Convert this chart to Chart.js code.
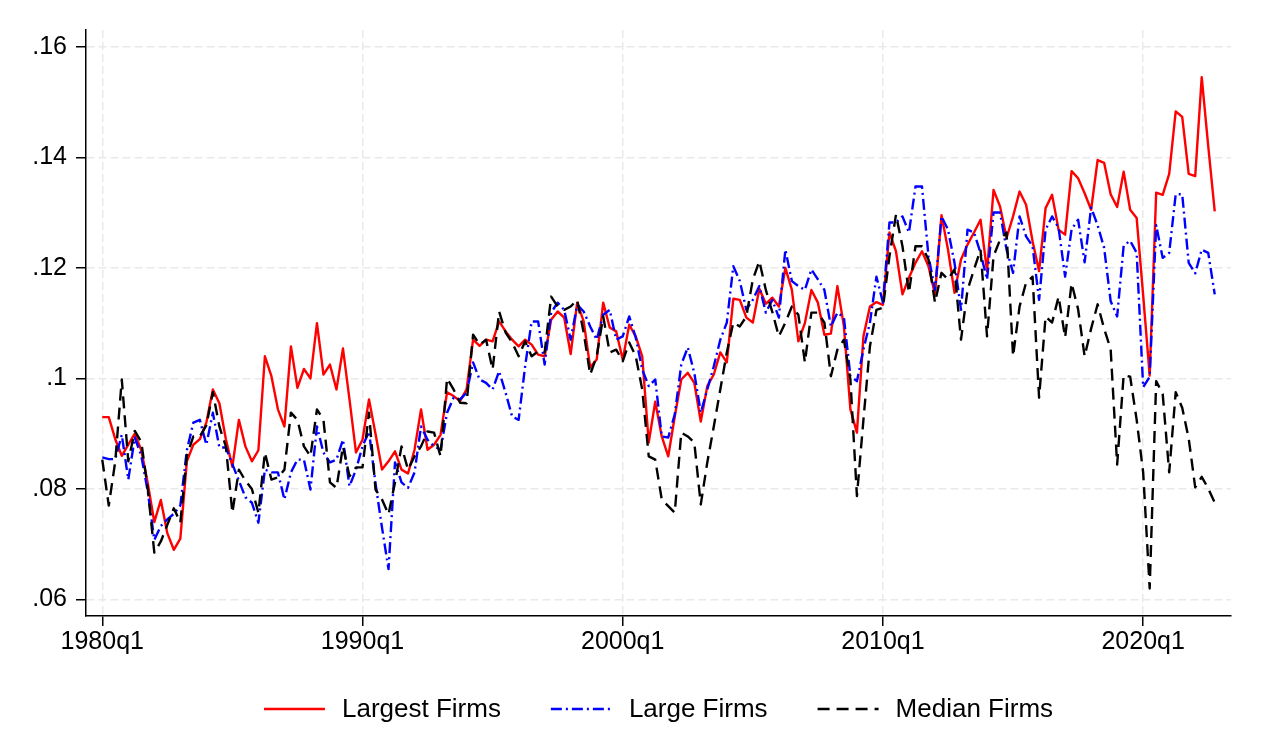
<!DOCTYPE html>
<html>
<head>
<meta charset="utf-8">
<script src="https://cdn.jsdelivr.net/npm/chart.js@4.4.1/dist/chart.umd.min.js"></script>
<style>
  html, body { margin: 0; padding: 0; background: #fff; }
  canvas { display: block; }
</style>
</head>
<body>
<canvas id="mycanvas" width="1279" height="741"></canvas>
<script>
// quarters 1980q1 .. 2022q4
var quarters = [];
for (var yr = 1980; yr <= 2022; yr++) {
  for (var q = 1; q <= 4; q++) quarters.push(yr + 'q' + q);
}

var seriesNames = ['Largest Firms', 'Large Firms', 'Median Firms'];

var largest = [
  .093, .093, .089, .086, .088, .090, .087, .081, .074, .078,
  .072, .069, .071, .085, .088, .089, .092, .098, .0955, .089,
  .084, .0925, .0877, .085, .087, .104, .1004, .0944, .0913, .1058,
  .0983, .1017, .100, .110, .1007, .1025, .098, .1054, .0962, .0866,
  .0889, .0962, .090, .0835, .085, .0868, .0835, .0828, .0871, .0944,
  .0871, .088, .0898, .0975, .0968, .0959, .098, .107, .1059, .107,
  .1067, .1103, .1085, .107, .1058, .107, .1061, .1043, .104, .1106,
  .1121, .111, .1044, .1137, .1103, .102, .1034, .1137, .1092, .1085,
  .1034, .1097, .1076, .104, .0884, .0958, .0895, .0859, .0931, .0998,
  .101, .0992, .0922, .0986, .1007, .1047, .1029, .1144, .1142, .111,
  .1101, .1162, .1135, .1146, .113, .120, .116, .1067, .110, .116,
  .1137, .1079, .1081, .1167, .1094, .0944, .0902, .1076, .113, .1138,
  .1133, .1264, .123, .1152, .1182, .1209, .123, .1203, .1152, .1295,
  .1233, .1155, .1215, .1242, .1264, .1287, .1194, .1341, .1311, .1254,
  .1293, .1338, .1314, .1248, .1194, .1308, .1332, .1269, .126, .1375,
  .1362, .1335, .1305, .1395, .139, .1333, .131, .1374, .1305, .129,
  .115, .1005, .1336, .1332, .137, .1483, .1473, .137, .1366, .1545,
  .142, .1302
];

var large = [
  .0857, .0854, .0854, .0898, .0817, .0893, .086, .0795, .0708, .0733,
  .0745, .0755, .077, .087, .092, .0925, .088, .0938, .0875, .0875,
  .0845, .0815, .0785, .0775, .0739, .0835, .083, .083, .0781, .083,
  .0853, .0853, .0799, .0913, .0866, .0848, .0853, .0889, .0805, .0835,
  .0877, .0904, .081, .073, .0655, .0848, .0812, .0802, .083, .0913,
  .0889, .0877, .0871, .0938, .0965, .0962, .0974, .1029, .0998, .0992,
  .098, .1013, .0974, .0931, .0925, .1022, .1103, .1103, .1025, .1119,
  .1137, .1124, .107, .1133, .1121, .1094, .107, .1115, .1124, .107,
  .1076, .1112, .1074, .1016, .0986, .0998, .0895, .0893, .0935, .1025,
  .1056, .101, .0938, .098, .1022, .107, .1101, .1203, .1176, .1124,
  .1142, .1167, .1119, .1142, .111, .1233, .1176, .1167, .116, .1197,
  .1179, .116, .1094, .1119, .111, .1004, .0995, .1052, .1101, .1184,
  .1137, .1282, .1282, .1293, .1264, .1347, .1347, .1221, .116, .1293,
  .1269, .1209, .1124, .1269, .1264, .1227, .1179, .13, .13, .1233,
  .1191, .1293, .1257, .1239, .1142, .1269, .1293, .1272, .1184, .127,
  .1287, .121, .1309, .1277, .1236, .114, .1112, .124, .1249, .1227,
  .0984, .1003, .1277, .1218, .1227, .1333, .1333, .1209, .119, .1233,
  .1227, .1152
];

var median = [
  .0853, .077, .085, .0998, .085, .0905, .0885, .080, .0685, .0705,
  .0735, .0765, .0739, .086, .0895, .0895, .0915, .0975, .0913, .0877,
  .0757, .0835, .0815, .080, .0757, .0866, .0817, .0821, .0835, .0938,
  .0925, .0877, .0859, .0944, .0925, .0812, .0802, .0877, .0823, .0839,
  .0839, .0938, .0799, .0781, .0754, .0812, .0877, .0835, .0859, .0877,
  .0904, .0902, .0859, .100, .098, .0956, .0955, .1079, .1061, .107,
  .1016, .1121, .1083, .1065, .104, .1067, .104, .1049, .1047, .1148,
  .113, .1124, .113, .1142, .1083, .1007, .104, .1112, .1047, .1052,
  .1031, .1065, .104, .098, .0859, .0853, .0781, .0769, .0757, .0902,
  .0895, .0884, .0772, .0848, .0913, .098, .1047, .1101, .1094, .1112,
  .1179, .1212, .116, .112, .1076, .1101, .113, .1115, .1029, .1119,
  .1119, .1101, .1004, .1052, .107, .0998, .0787, .0925, .1058, .1124,
  .1128, .1221, .1296, .1239, .1155, .1239, .1239, .1215, .1137, .1191,
  .1179, .1197, .107, .116, .1197, .1233, .1076, .1221, .1251, .1264,
  .104, .113, .1173, .1184, .0965, .1112, .1101, .1148, .1074, .1172,
  .1125, .104, .109, .1134, .109, .1053, .0844, .1006, .1003, .0925,
  .083, .062, .0995, .0972, .083, .0975, .0947, .0891, .0803, .0822,
  .0801, .0775
];

var xTickLabels = ['1980q1', '1990q1', '2000q1', '2010q1', '2020q1'];
var yTicks = [.06, .08, .10, .12, .14, .16];
var yTickLabels = ['.06', '.08', '.1', '.12', '.14', '.16'];

var FONT = '"Liberation Sans", Arial, Helvetica, sans-serif';

function toPoints(arr) {
  var out = [];
  for (var i = 0; i < arr.length; i++) out.push({x: i, y: arr[i]});
  return out;
}
var xTickPos = xTickLabels.map(function(l) { return quarters.indexOf(l); });

//################## legend drawn like the stata one ##################//
var stataLegend = {
  id: 'stataLegend',
  afterDraw: function(chart) {
    var ctx = chart.ctx;
    var area = chart.chartArea;
    var lineLen = 61, gapText = 17, gapItem = 50;
    ctx.save();
    ctx.font = '26px ' + FONT;
    var dsets = chart.data.datasets;
    var widths = dsets.map(function(ds) { return ctx.measureText(ds.label).width; });
    var total = 0;
    widths.forEach(function(w, k) { total += lineLen + gapText + w + (k ? gapItem : 0); });
    var x = (area.left + area.right) / 2 - total / 2;
    var y = chart.height - 32;
    dsets.forEach(function(ds, k) {
      ctx.beginPath();
      ctx.lineWidth = ds.borderWidth;
      ctx.strokeStyle = ds.borderColor;
      ctx.setLineDash(ds.borderDash || []);
      ctx.moveTo(x, y);
      ctx.lineTo(x + lineLen, y);
      ctx.stroke();
      ctx.setLineDash([]);
      ctx.fillStyle = '#000';
      ctx.textBaseline = 'middle';
      ctx.textAlign = 'left';
      ctx.fillText(ds.label, x + lineLen + gapText, y + 1);
      x += lineLen + gapText + widths[k] + gapItem;
    });
    ctx.restore();
  }
};

var chartdata = {
  datasets: [
    {
      label: seriesNames[0],
      data: toPoints(largest),
      borderColor: '#ff0000',
      borderWidth: 2.4,
      borderDash: [],
      order: 3
    },
    {
      label: seriesNames[1],
      data: toPoints(large),
      borderColor: '#0000ff',
      borderWidth: 2.4,
      borderDash: [11, 4, 2, 4],
      order: 2
    },
    {
      label: seriesNames[2],
      data: toPoints(median),
      borderColor: '#000000',
      borderWidth: 2.4,
      borderDash: [12, 7],
      order: 1
    }
  ]
};

var ctx = document.getElementById('mycanvas');
var lineGraph = new Chart(ctx, {
  type: 'line',
  data: chartdata,
  plugins: [stataLegend],
  options: {
    responsive: false,
    animation: false,
    devicePixelRatio: 1,
    layout: { padding: { top: 30, right: 48, left: 0, bottom: 0 } },
    elements: {
      point: { radius: 0 },
      line: { tension: 0, fill: false, borderJoinStyle: 'round' }
    },
    plugins: {
      legend: { display: false },
      tooltip: { enabled: false }
    },
    scales: {
      x: {
        type: 'linear',
        min: -2.5,
        max: 173.5,
        afterBuildTicks: function(scale) {
          scale.ticks = xTickPos.map(function(v) { return {value: v}; });
        },
        afterFit: function(scale) { scale.height = 125; },
        ticks: {
          color: '#000',
          padding: 1,
          maxRotation: 0,
          autoSkip: false,
          font: { family: FONT, size: 25 },
          callback: function(value, index) { return xTickLabels[index]; }
        },
        grid: {
          color: '#e9e9e9',
          lineWidth: 1.5,
          tickColor: '#000',
          tickWidth: 1.5,
          tickLength: 10
        },
        border: { display: true, color: '#000', width: 1.5, dash: [8, 4] }
      },
      y: {
        min: 0.05702,
        max: 0.16302,
        afterBuildTicks: function(scale) {
          scale.ticks = yTicks.map(function(v) { return {value: v}; });
        },
        afterFit: function(scale) { scale.width = 86; },
        ticks: {
          color: '#000',
          padding: 9,
          font: { family: FONT, size: 25 },
          callback: function(value, index) { return yTickLabels[index]; }
        },
        grid: {
          color: '#e9e9e9',
          lineWidth: 1.5,
          tickColor: '#000',
          tickWidth: 1.5,
          tickLength: 10
        },
        border: { display: true, color: '#000', width: 1.5, dash: [8, 4] }
      }
    }
  }
});
</script>
</body>
</html>
